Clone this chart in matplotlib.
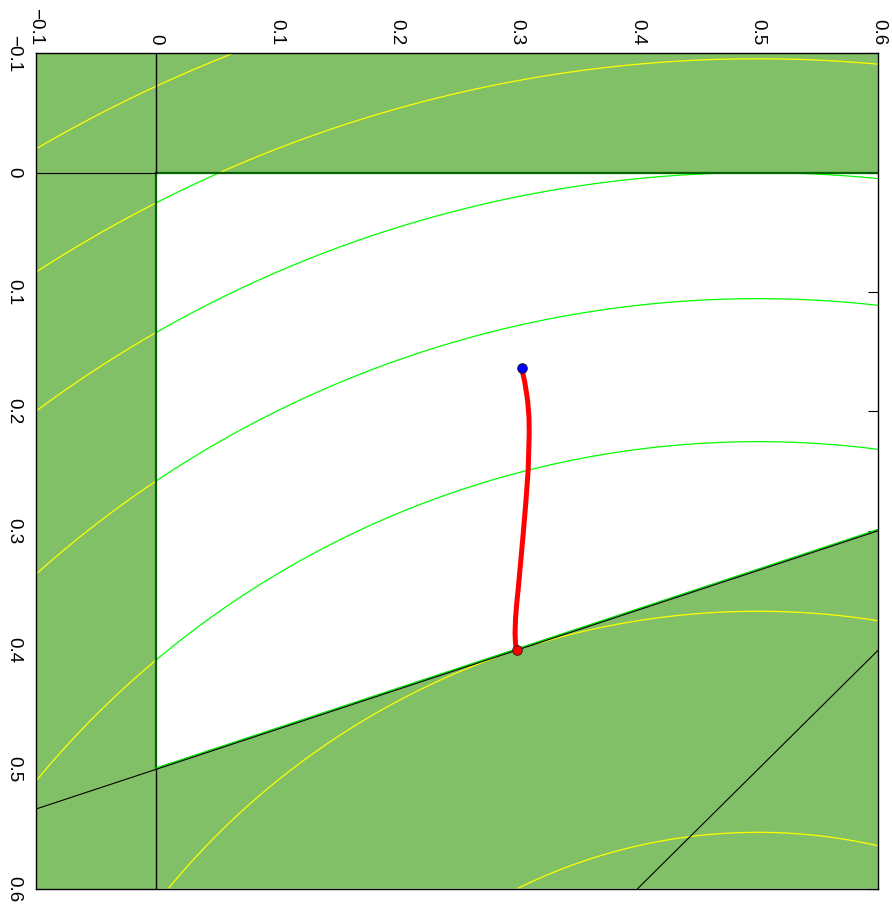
import numpy as np
import matplotlib
matplotlib.use("Agg")
import matplotlib.pyplot as plt

plt.rcParams['font.family'] = ['Liberation Sans', 'DejaVu Sans']

# axis range (same for both directions)
lim = (-0.1, 0.6)
ticks = [-0.1, 0, 0.1, 0.2, 0.3, 0.4, 0.5, 0.6]
tick_labels = ['\u22120.1', '0', '0.1', '0.2', '0.3', '0.4', '0.5', '0.6']

# objective: squared distance to the target point
target = (0.5, 1.0)
levels = [0.2, 0.4, 0.6, 0.8, 1.0, 1.2, 1.4]

# linear constraint  v <= c0 - c1*u  and the line u + v = 1
c0, c1 = 0.5, 1.0 / 3.0
line2_u = [0.4, 0.6]
line2_v = [0.6, 0.4]

# iterate path (horizontal coordinate u, vertical coordinate v)
path_u = [0.3036, 0.3062, 0.3086, 0.3098, 0.3100, 0.3091, 0.3072, 0.3050,
          0.3030, 0.3010, 0.2996, 0.2986, 0.2982, 0.2986, 0.2998]
path_v = [0.1635, 0.1750, 0.1904, 0.2050, 0.2185, 0.2493, 0.2760, 0.3024,
          0.3250, 0.3471, 0.3610, 0.3736, 0.3860, 0.3950, 0.4002]

green_fill = '#81c067'

fig = plt.figure(figsize=(8.92, 9.07), dpi=100)
ax = fig.add_axes([0.0400, 0.0202, 0.9447, 0.9210])
ax.set_xlim(*lim)
ax.set_ylim(lim[1], lim[0])
ax.set_axisbelow(True)

# infeasible regions
ax.axhspan(lim[0], 0, color=green_fill, lw=0, zorder=1)
ax.axvspan(lim[0], 0, color=green_fill, lw=0, zorder=1)
uu = np.array([0, lim[1], lim[1], 0])
vv = np.array([c0, c0 - c1 * lim[1], lim[1], lim[1]])
ax.fill(uu, vv, color=green_fill, lw=0, zorder=1)

# contours of the objective, coloured by feasibility
g = np.linspace(lim[0], lim[1], 1600)
U, V = np.meshgrid(g, g)
F = (U - target[0]) ** 2 + (V - target[1]) ** 2
feas = (U >= 0) & (V >= 0) & (V <= c0 - c1 * U)
ax.contour(U, V, np.ma.masked_where(~feas, F), levels=levels,
           colors='#00ff00', linewidths=0.9, zorder=2)
ax.contour(U, V, np.ma.masked_where(feas, F), levels=levels,
           colors='#ffff00', linewidths=0.9, zorder=2)

# feasible-region boundary
ax.plot([0, 0], [0, c0], color='#006400', lw=1.6, zorder=3)
ax.plot([0, lim[1]], [0, 0], color='#006400', lw=1.6, zorder=3)
bu = np.array([0, lim[1]])
ax.plot(bu, c0 - c1 * bu - 0.001, color='#00e000', lw=1.1, zorder=3)

# constraint lines
ax.plot([lim[0], 0], [0, 0], color='black', lw=0.8, zorder=3)
ax.plot([0, 0], [lim[0], 0], color='black', lw=1.0, zorder=3)
ax.plot([0, 0], [c0, lim[1]], color='black', lw=1.0, zorder=3)
lu = np.array([lim[0], lim[1]])
ax.plot(lu, c0 - c1 * lu, color='black', lw=0.8, zorder=4)
ax.plot(line2_u, line2_v, color='black', lw=0.8, zorder=4)

# path with start and end points
ax.plot(path_u, path_v, color='#ff0000', lw=3.6, solid_capstyle='round', zorder=5)
ax.plot(path_u[0], path_v[0], 'o', ms=7, mfc='#0000ff', mec='#202020', mew=0.6, zorder=6)
ax.plot(path_u[-1], path_v[-1], 'o', ms=7, mfc='#ff0000', mec='#202020', mew=0.6, zorder=6)

# ticks and labels
ax.set_xticks(ticks)
ax.set_yticks(ticks)
ax.set_xticklabels(tick_labels, rotation=-90, fontsize=13.5)
ax.set_yticklabels(tick_labels, rotation=-90, fontsize=13.5, va='center')
ax.xaxis.tick_top()
ax.tick_params(axis='x', which='both', direction='in', length=7, width=0.8,
               top=False, bottom=False, labeltop=True, labelbottom=False, pad=6)
ax.tick_params(axis='y', which='both', direction='in', length=7, width=0.8,
               left=False, right=True, pad=10)
for lab in ax.get_xticklabels():
    lab.set_va('bottom')
    lab.set_ha('center')
for s in ax.spines.values():
    s.set_linewidth(1.0)
    s.set_zorder(7)

fig.savefig('out.png', dpi=100)
